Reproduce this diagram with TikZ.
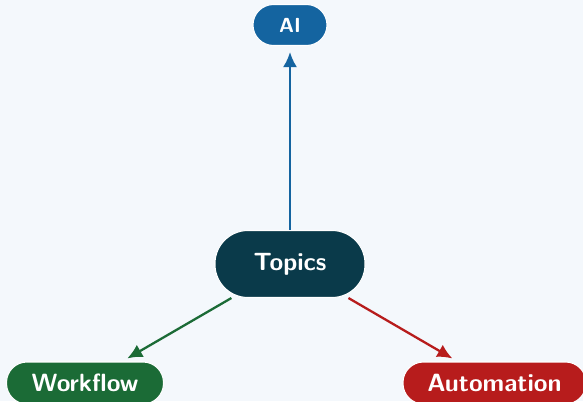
\documentclass[tikz,border=0pt]{standalone}
\usepackage{fontspec}
\usepackage{tikz}
\usetikzlibrary{arrows.meta}

\definecolor{bgcol}{HTML}{F4F8FC}
\definecolor{topiccol}{HTML}{0A3A4A}
\definecolor{aicol}{HTML}{1464A0}
\definecolor{flowcol}{HTML}{1B6B36}
\definecolor{autocol}{HTML}{B71C1C}

\begin{document}
\begin{tikzpicture}[>={Latex[length=3mm,width=2.8mm]},
  pill/.style={draw=white,line width=0.6pt,text=white,
    font=\sffamily\bfseries\fontsize{14.2}{16}\selectfont,
    minimum height=0.84cm,rounded corners=0.41cm,inner sep=0pt},
  link/.style={->,line width=1.3pt,shorten >=0.12cm}]
  \fill[bgcol] (0,0) rectangle (11.66,8.02);
  \useasboundingbox (0,0) rectangle (11.66,8.02);
  \node[pill,fill=topiccol,minimum width=3cm,minimum height=1.34cm,
        rounded corners=0.66cm] (topics) at (5.8,2.74) {Topics};
  \node[pill,fill=aicol,minimum width=1.48cm,minimum height=0.82cm,
        font=\sffamily\bfseries\fontsize{11.6}{13}\selectfont] (ai) at (5.8,7.52) {AI};
  \node[pill,fill=flowcol,minimum width=3.14cm] (workflow) at (1.7,0.36) {Workflow};
  \node[pill,fill=autocol,minimum width=3.66cm] (automation) at (9.89,0.36) {Automation};
  \draw[link,aicol] (topics) -- (ai);
  \draw[link,flowcol] (topics) -- (workflow);
  \draw[link,autocol] (topics) -- (automation);
\end{tikzpicture}
\end{document}
